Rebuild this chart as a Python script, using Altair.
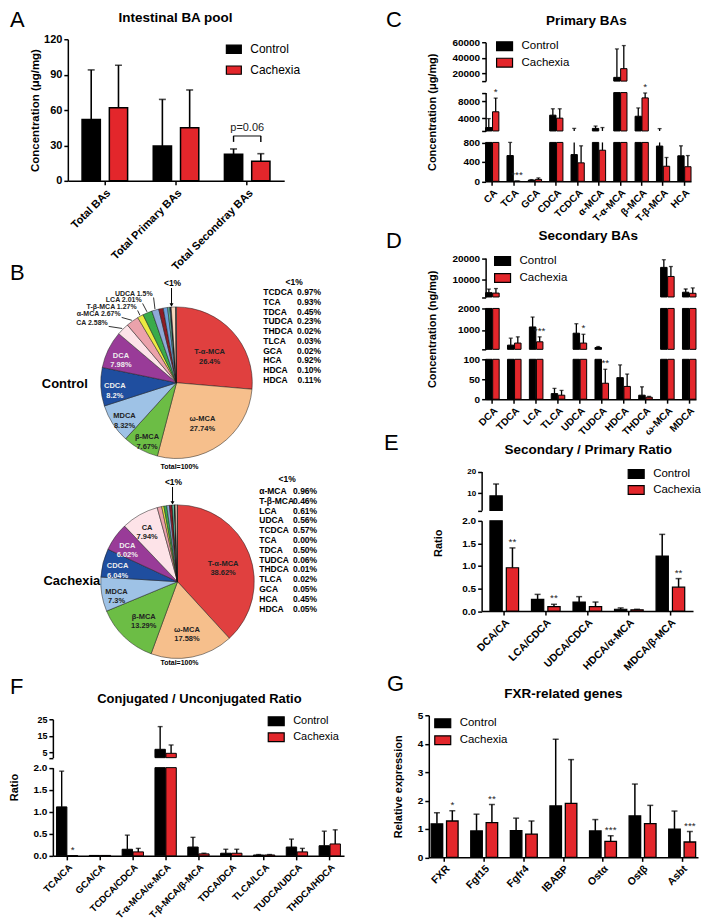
import math
import altair as alt
import pandas as pd

FONT = "Liberation Sans, Arial, Helvetica, sans-serif"
GROUPS = ["Control", "Cachexia"]
COLORS = ["#000000", "#e3262b"]
RECT = "M-1,-0.55H1V0.55H-1Z"

# ---------------- A: Intestinal BA pool ----------------
A_cats = ["Total BAs", "Total Primary BAs", "Total Secondray BAs"]
A_ctrl = [52, 29.5, 22.5]
A_ctrl_err = [94, 69, 27]
A_cach = [62, 45, 16.5]
A_cach_err = [98, 77, 23]
A_sig = ["", "", ""]
A_p_text = "p=0.06"
A_bracket = [33, 38]

# ---------------- C: Primary BAs ----------------
C_cats = ["CA", "TCA", "GCA", "CDCA", "TCDCA", "α-MCA", "T-α-MCA", "β-MCA", "T-β-MCA", "HCA"]
C_ctrl = [1800, 530, 25, 4700, 550, 1600, 14800, 4450, 725, 525]
C_ctrl_err = [3900, 800, 35, 6200, 1600, 2150, 51400, 6400, 1550, 730]
C_cach = [5500, 3, 40, 4000, 380, 640, 26000, 8750, 310, 300]
C_cach_err = [8700, 5, 70, 6200, 730, 1800, 55700, 9900, 490, 530]
C_sig = ["*", "***", "", "", "", "", "", "*", "", ""]

# ---------------- D: Secondary BAs ----------------
D_cats = ["DCA", "TDCA", "LCA", "TLCA", "UDCA", "TUDCA", "HDCA", "THDCA", "ω-MCA", "MDCA"]
D_ctrl = [4000, 295, 1140, 14, 850, 185, 54, 10, 15700, 4200]
D_ctrl_err = [5650, 620, 1600, 27, 1290, 230, 86, 31, 19250, 5700]
D_cach = [3800, 390, 450, 10, 390, 40, 32, 5, 11500, 3700]
D_cach_err = [5900, 680, 680, 22, 800, 75, 63, 7, 16100, 6200]
D_sig = ["", "", "***", "", "*", "**", "", "", "", ""]

# ---------------- E: Secondary / Primary ratio ----------------
E_cats = ["DCA/CA", "LCA/CDCA", "UDCA/CDCA", "HDCA/α-MCA", "MDCA/β-MCA"]
E_ctrl = [8.7, 0.26, 0.2, 0.04, 1.22]
E_ctrl_err = [14.2, 0.37, 0.32, 0.07, 1.7]
E_cach = [0.96, 0.1, 0.1, 0.03, 0.53]
E_cach_err = [1.4, 0.15, 0.2, 0.04, 0.72]
E_sig = ["**", "**", "", "", "**"]

# ---------------- F: Conjugated / Unconjugated ratio ----------------
F_cats = ["TCA/CA", "GCA/CA", "TCDCA/CDCA", "T-α-MCA/α-MCA", "T-β-MCA/β-MCA",
          "THCA/HCA", "TDCA/DCA", "TLCA/LCA", "TUDCA/UDCA", "THDCA/HDCA"]
F_ctrl = [1.11, 0.01, 0.15, 7.0, 0.2, 0.0, 0.06, 0.02, 0.2, 0.23]
F_ctrl_err = [1.92, 0.01, 0.47, 20.6, 0.42, 0.0, 0.15, 0.03, 0.38, 0.56]
F_cach = [0.005, 0.01, 0.09, 4.6, 0.045, 0.0, 0.06, 0.02, 0.09, 0.27]
F_cach_err = [0.005, 0.01, 0.17, 9.6, 0.06, 0.0, 0.15, 0.03, 0.17, 0.59]
F_sig = ["*", "", "", "", "", "", "", "", "", ""]

# ---------------- G: FXR-related genes ----------------
G_cats = ["FXR", "Fgf15", "Fgfr4", "IBABP", "Ostα", "Ostβ", "Asbt"]
G_ctrl = [1.18, 0.93, 0.94, 1.81, 0.93, 1.46, 0.99]
G_ctrl_err = [1.57, 1.52, 1.38, 4.16, 1.33, 2.58, 1.63]
G_cach = [1.28, 1.22, 0.82, 1.9, 0.56, 1.19, 0.54]
G_cach_err = [1.64, 1.86, 1.28, 3.44, 0.76, 1.83, 0.91]
G_sig = ["*", "**", "", "", "***", "", "***"]

# ---------------- B: pies ----------------
B_ctrl_names = ["T-α-MCA", "ω-MCA", "β-MCA", "MDCA", "CDCA", "DCA", "CA", "α-MCA", "T-β-MCA",
                "LCA", "UDCA", "TCDCA", "TCA", "TDCA", "TUDCA", "THDCA", "TLCA", "GCA", "HCA",
                "HDCA", "HDCA*"]
B_ctrl_pct = [26.4, 27.74, 7.67, 8.32, 8.2, 7.98, 2.58, 2.67, 1.27, 2.01, 1.5, 0.97, 0.93,
              0.45, 0.23, 0.02, 0.03, 0.02, 0.92, 0.10, 0.11]
B_ctrl_list_names = ["TCDCA", "TCA", "TDCA", "TUDCA", "THDCA", "TLCA", "GCA", "HCA", "HDCA", "HDCA"]
B_ctrl_list_vals = ["0.97%", "0.93%", "0.45%", "0.23%", "0.02%", "0.03%", "0.02%", "0.92%",
                    "0.10%", "0.11%"]
B_ctrl_notes = ["UDCA 1.5%", "LCA 2.01%", "T-β-MCA 1.27%", "α-MCA 2.67%", "CA 2.58%"]
B_ctrl_note_slices = ["UDCA", "LCA", "T-β-MCA", "α-MCA", "CA"]

B_cach_names = ["T-α-MCA", "ω-MCA", "β-MCA", "MDCA", "CDCA", "DCA", "CA", "α-MCA", "T-β-MCA",
                "LCA", "UDCA", "TCDCA", "TCA", "TDCA", "TUDCA", "THDCA", "TLCA", "GCA", "HCA",
                "HDCA"]
B_cach_pct = [38.62, 17.58, 13.29, 7.3, 6.04, 6.02, 7.94, 0.96, 0.46, 0.61, 0.56, 0.57, 0.00,
              0.50, 0.06, 0.01, 0.02, 0.05, 0.45, 0.05]
B_cach_list_names = ["α-MCA", "T-β-MCA", "LCA", "UDCA", "TCDCA", "TCA", "TDCA", "TUDCA",
                     "THDCA", "TLCA", "GCA", "HCA", "HDCA"]
B_cach_list_vals = ["0.96%", "0.46%", "0.61%", "0.56%", "0.57%", "0.00%", "0.50%", "0.06%",
                    "0.01%", "0.02%", "0.05%", "0.45%", "0.05%"]

PIE_COLORS = {
    "T-α-MCA": "#e0403f", "ω-MCA": "#f6bf8c", "β-MCA": "#6cbd45", "MDCA": "#9ec2e6",
    "CDCA": "#1f4e9f", "DCA": "#993b98", "CA": "#fde3e8", "α-MCA": "#eba2ab",
    "T-β-MCA": "#ecea42", "LCA": "#3aab4a", "UDCA": "#8ea9d8", "TCDCA": "#8e1c24",
    "TCA": "#6d9fd9", "TDCA": "#5cb99b", "TUDCA": "#3f70b9", "THDCA": "#b5b5b5",
    "TLCA": "#c77fbc", "GCA": "#f3caa8", "HCA": "#f9d7bf", "HDCA": "#fbe6d5", "HDCA*": "#f7efe6",
}


def make_df(cats, ctrl, ctrl_err, cach, cach_err, sig):
    rows = []
    for i, c in enumerate(cats):
        rows.append({"cat": c, "grp": "Control", "val": ctrl[i], "err": ctrl_err[i], "sig": ""})
        rows.append({"cat": c, "grp": "Cachexia", "val": cach[i], "err": cach_err[i], "sig": sig[i]})
    return pd.DataFrame(rows)


def label(t, x, y, size=22, weight="normal", align="left", baseline="top", color="black"):
    return alt.Chart(pd.DataFrame({"t": [t]})).mark_text(
        x=x, y=y, align=align, baseline=baseline, fontSize=size, fontWeight=weight,
        font=FONT, color=color).encode(text="t:N")


def title_text(t, x, y, size=13.5):
    return label(t, x, y, size=size, weight="bold", align="center", baseline="middle")


def arrow(x, y1, y2):
    d = pd.DataFrame({"a": [0]})
    line = alt.Chart(d).mark_rule(color="black", strokeWidth=1).encode(
        x=alt.value(x), y=alt.value(y1), y2=alt.value(y2 - 3))
    head = alt.Chart(d).mark_point(shape="triangle-down", filled=True, color="black",
                                   size=16, opacity=1).encode(x=alt.value(x), y=alt.value(y2 - 2))
    return [line, head]


def leader(x1, y1, x2, y2):
    d = pd.DataFrame({"a": [0]})
    return alt.Chart(d).mark_rule(color="black", strokeWidth=0.8).encode(
        x=alt.value(x1), y=alt.value(y1), x2=alt.value(x2), y2=alt.value(y2))


def leg(x, y, size=11.5, row_pad=0.5, sym=256):
    return alt.Legend(orient="none", legendX=x, legendY=y, title=None, symbolType=RECT,
                      symbolSize=sym, symbolStrokeColor="black", symbolStrokeWidth=1.2,
                      labelFontSize=size, labelFont=FONT, labelColor="black",
                      labelFontWeight="normal", rowPadding=row_pad, labelOffset=8, padding=0)


def panel(df, cats, w, h, xoff, segs, xpad, opad, xlab, legend, ytitle=None, tseg=0, ytpad=4,
          yty=None, ytsize=11, cap=5, sw=1.0, esw=1.4, star=10, texts=(), extra=None):
    xaxis = alt.Axis(labelAngle=-45, labelFontSize=xlab, labelPadding=2)
    X = alt.X("cat:N", sort=cats,
              scale=alt.Scale(range=[xoff, w], paddingInner=xpad[0], paddingOuter=xpad[1]),
              axis=xaxis, title=None)
    XO = alt.XOffset("grp:N", sort=GROUPS,
                     scale=alt.Scale(domain=GROUPS, paddingInner=opad, paddingOuter=0))
    col = alt.Color("grp:N", sort=GROUPS, scale=alt.Scale(domain=GROUPS, range=COLORS),
                    legend=legend)
    seg_layers = []
    for k, s in enumerate(segs):
        lo, hi = s["dom"]
        ends = s.get("ends", [])
        values = sorted(set(list(s["ticks"]) + list(ends)))
        if ends:
            cond = " || ".join(f"datum.value == {e}" for e in ends)
            lexpr = f"({cond}) ? '' : datum.label"
        else:
            lexpr = "datum.label"
        akw = dict(values=values, format=s.get("fmt", "d"), labelExpr=lexpr,
                   labelFontSize=s.get("ylab", 10), orient="left", offset=-xoff)
        ttl = None
        if k == tseg and ytitle:
            ttl = ytitle
            akw.update(titleFontSize=ytsize, titlePadding=ytpad)
            if yty is not None:
                akw["titleY"] = yty
        yaxis = alt.Axis(**akw)
        ysc = alt.Scale(domain=[lo, hi], range=list(s["rng"]), nice=False, zero=False)

        def Y(f, ysc=ysc, yaxis=yaxis, ttl=ttl):
            return alt.Y(f + ":Q", scale=ysc, axis=yaxis, title=ttl)

        base = alt.Chart(df).encode(x=X, xOffset=XO)
        bars = base.transform_filter(f"datum.val > {lo}").transform_calculate(
            ytop=f"min(datum.val, {hi})", ybot=f"{lo}").mark_bar(
            stroke="black", strokeWidth=sw).encode(y=Y("ytop"), y2=alt.Y2("ybot:Q"), color=col)
        rules = base.transform_filter(
            f"datum.err > datum.val && datum.err > {lo} && datum.val < {hi}").transform_calculate(
            e1=f"max(datum.val, {lo})", e2=f"min(datum.err, {hi})").mark_rule(
            color="black", strokeWidth=esw).encode(y=Y("e1"), y2=alt.Y2("e2:Q"))
        caps = base.transform_filter(
            f"datum.err > datum.val && datum.err >= {lo} && datum.err <= {hi}").mark_tick(
            color="black", thickness=esw, size=cap).encode(y=Y("err"))
        stars = base.transform_filter(
            f"datum.sig != '' && datum.err >= {lo} && datum.err <= {hi}").mark_text(
            baseline="bottom", dy=-1, fontSize=star, font=FONT, color="#222222").encode(
            y=Y("err"), text="sig:N")
        sl = [bars, rules, caps, stars]
        if extra is not None and k == 0:
            sl += extra(X, XO, Y)
        seg_layers.append(alt.layer(*sl))
    ch = alt.layer(*seg_layers, *texts)
    if len(segs) > 1:
        ch = ch.resolve_scale(y="independent")
    return ch.properties(width=w, height=h)


def pie_panel(names, pct, R, cx, cy, n_big, n_lab, r_in, r_out, lnames, lvals, ly0, ldy, lxn,
              lxv, hdr, lt, side, total, w, h, notes=(), extra_texts=()):
    df = pd.DataFrame({"name": names, "pct": pct, "idx": list(range(len(names)))})
    base = alt.Chart(df).encode(theta=alt.Theta("pct:Q", stack=True),
                                order=alt.Order("idx:Q", sort="ascending"),
                                x=alt.value(cx), y=alt.value(cy))
    arcs = base.mark_arc(outerRadius=R, stroke="#1a1a1a", strokeWidth=0.5).encode(
        color=alt.Color("name:N", scale=alt.Scale(domain=names,
                                                  range=[PIE_COLORS[n] for n in names]),
                        legend=None))
    tc = "indexof(['CDCA','DCA'], datum.name) >= 0 ? '#eeeeee' : '#222222'"
    lab_expr = "datum.name + '\\n' + datum.pct + '%'"
    t_in = base.transform_calculate(
        lab=f"datum.idx < {n_big} ? {lab_expr} : ''", tc=tc).mark_text(
        radius=r_in, lineBreak="\n", fontSize=7.5, fontWeight="bold", font=FONT).encode(
        text="lab:N", detail="name:N", fill=alt.Fill("tc:N", scale=None))
    t_out = base.transform_calculate(
        lab=f"datum.idx >= {n_big} && datum.idx < {n_lab} ? {lab_expr} : ''", tc=tc).mark_text(
        radius=r_out, lineBreak="\n", fontSize=7.5, fontWeight="bold", font=FONT).encode(
        text="lab:N", detail="name:N", fill=alt.Fill("tc:N", scale=None))
    n = len(lnames)
    ldf = pd.DataFrame({"row": list(range(n)), "name": lnames, "v": lvals})
    ysc = alt.Scale(domain=[0, n - 1], range=[ly0, ly0 + (n - 1) * ldy])
    l1 = alt.Chart(ldf).mark_text(align="left", baseline="middle", x=lxn, fontSize=8.5,
                                  fontWeight="bold", font=FONT, color="black").encode(
        y=alt.Y("row:Q", scale=ysc, axis=None), text="name:N")
    l2 = alt.Chart(ldf).mark_text(align="right", baseline="middle", x=lxv, fontSize=8.5,
                                  fontWeight="bold", font=FONT, color="black").encode(
        y=alt.Y("row:Q", scale=ysc, axis=None), text="v:N")
    layers = [arcs, t_in, t_out, l1, l2,
              label("<1%", hdr[0], hdr[1], size=8.5, weight="bold", align="center",
                    baseline="middle"),
              label("<1%", lt[0], lt[1], size=8.5, weight="bold", align="center",
                    baseline="middle"),
              label(side[0], side[1], side[2], size=13, weight="bold", align="center",
                    baseline="middle"),
              label("Total=100%", total[0], total[1], size=7, weight="bold", align="center",
                    baseline="middle")]
    layers += arrow(lt[0] - 1, lt[1] + 5, cy - R)
    tot = sum(pct)
    for t, x, y, sl in notes:
        layers.append(label(t, x, y, size=7, weight="bold", align="right", baseline="middle",
                            color="#222222"))
        i = names.index(sl)
        mid = (sum(pct[:i]) + pct[i] / 2) / tot * 2 * math.pi
        px = cx + (R + 1) * math.sin(mid)
        py = cy - (R + 1) * math.cos(mid)
        layers.append(leader(x + 1, y + 3.5, px, py))
    layers += list(extra_texts)
    return alt.layer(*layers).properties(width=w, height=h)


# ---------------- A ----------------
dfA = make_df(A_cats, A_ctrl, A_ctrl_err, A_cach, A_cach_err, A_sig)


def a_extra(X, XO, Y):
    d = pd.DataFrame({"cat": [A_cats[2]] * 2, "grp": GROUPS,
                      "y1": [A_bracket[0]] * 2, "y2": [A_bracket[1]] * 2})
    legs = alt.Chart(d).mark_rule(color="black", strokeWidth=1.4).encode(
        x=X, xOffset=XO, y=Y("y1"), y2=alt.Y2("y2:Q"))
    top = alt.Chart(d.iloc[:1]).mark_tick(color="black", thickness=1.4, size=28).encode(
        x=X, y=Y("y2"))
    txt = alt.Chart(d.iloc[:1]).mark_text(baseline="bottom", dy=-3, fontSize=11, font=FONT,
                                          color="#222222").encode(
        x=X, y=Y("y2"), text=alt.value(A_p_text))
    return [legs, top, txt]


A = panel(dfA, A_cats, 232, 142, 15,
          [dict(dom=(0, 120), rng=(142, 0), ticks=[0, 30, 60, 90, 120], ylab=11)],
          xpad=(0.36, 0.2), opad=0.33, xlab=11,
          legend=leg(173, 1.5, size=12, row_pad=5, sym=225),
          ytitle="Concentration (μg/mg)", ytpad=3, ytsize=11.5, cap=7, sw=1.5, esw=1.6,
          texts=[title_text("Intestinal BA pool", 123, -21), label("A", -43, -29)],
          extra=a_extra)

# ---------------- C ----------------
dfC = make_df(C_cats, C_ctrl, C_ctrl_err, C_cach, C_cach_err, C_sig)
C = panel(dfC, C_cats, 263, 142.5, 57,
          [dict(dom=(10000, 60000), rng=(42, 3), ticks=[20000, 40000, 60000], ends=[10000]),
           dict(dom=(1000, 10000), rng=(92, 53.5), ticks=[4000, 8000], ends=[1000, 10000]),
           dict(dom=(0, 800), rng=(142.5, 103.5), ticks=[0, 400, 800])],
          xpad=(0.38, 0.0), opad=0.08, xlab=10, legend=leg(67, -2),
          ytitle="Concentration (μg/mg)", tseg=1, ytpad=20, cap=4, sw=1.0, esw=1.3,
          texts=[title_text("Primary BAs", 158, -18), label("C", -43, -29)])

# ---------------- D ----------------
dfD = make_df(D_cats, D_ctrl, D_ctrl_err, D_cach, D_cach_err, D_sig)
D = panel(dfD, D_cats, 268, 218, 57,
          [dict(dom=(2000, 20000), rng=(115.5, 76.5), ticks=[10000, 20000], ends=[2000]),
           dict(dom=(100, 2000), rng=(168, 127), ticks=[1000, 2000], ends=[100]),
           dict(dom=(0, 100), rng=(218, 178), ticks=[0, 50, 100])],
          xpad=(0.38, 0.0), opad=0.08, xlab=10, legend=leg(65, 70.5, row_pad=1),
          ytitle="Concentration (ng/mg)", tseg=1, ytpad=20, cap=4, sw=1.0, esw=1.3,
          texts=[title_text("Secondary BAs", 160, 54.5), label("D", -43, 49.5)])

# ---------------- E ----------------
dfE = make_df(E_cats, E_ctrl, E_ctrl_err, E_cach, E_cach_err, E_sig)
E = panel(dfE, E_cats, 265, 152.5, 53,
          [dict(dom=(2, 20), rng=(51.5, 12.5), ticks=[10, 20], ends=[2], ylab=8),
           dict(dom=(0, 2), rng=(152.5, 62), ticks=[0, 0.5, 1, 1.5, 2], fmt=".1f")],
          xpad=(0.31, 0.2), opad=0.25, xlab=10.5, legend=leg(199, 6, row_pad=0),
          ytitle="Ratio", tseg=1, ytpad=18, yty=84, cap=6, sw=1.2, esw=1.5,
          texts=[title_text("Secondary / Primary  Ratio", 160, -9), label("E", -45, -26)])

# ---------------- F ----------------
dfF = make_df(F_cats, F_ctrl, F_ctrl_err, F_cach, F_cach_err, F_sig)
F = panel(dfF, F_cats, 292, 186, 0,
          [dict(dom=(2, 25), rng=(87.5, 49), ticks=[5, 15, 25], ends=[2], ylab=9),
           dict(dom=(0, 2), rng=(186, 97.5), ticks=[0, 0.5, 1, 1.5, 2], fmt=".1f")],
          xpad=(0.35, 0.11), opad=0.05, xlab=9.5, legend=leg(215, 42, size=11, row_pad=0),
          ytitle="Ratio", tseg=1, ytpad=13.5, yty=117, cap=5, sw=1.0, esw=1.4,
          texts=[title_text("Conjugated / Unconjugated Ratio", 147, 29, size=13),
                 label("F", -43, 7)])

# ---------------- G ----------------
dfG = make_df(G_cats, G_ctrl, G_ctrl_err, G_cach, G_cach_err, G_sig)
G = panel(dfG, G_cats, 270, 187.5, 0,
          [dict(dom=(0, 5), rng=(187.5, 45), ticks=[0, 1, 2, 3, 4, 5])],
          xpad=(0.32, 0.06), opad=0.25, xlab=10.5, legend=leg(5, 44, row_pad=1),
          ytitle="Relative expression", ytpad=14, cap=6, sw=1.3, esw=1.5,
          texts=[title_text("FXR-related genes", 135, 24), label("G", -42, 4)])

# ---------------- B pies ----------------
note_pos = [(100, 112.5), (89, 118.5), (84, 125.5), (68, 132.5), (55, 141.5)]
pieC = pie_panel(
    B_ctrl_names, B_ctrl_pct, 76, 124, 201.5, 2, 6, 45, 62, B_ctrl_list_names, B_ctrl_list_vals,
    110.5, 9.8, 211, 269, (242, 100.5), (120, 101.5), ("Control", 12, 202.5), (127, 286.5),
    292, 277.5,
    notes=[(B_ctrl_notes[i], note_pos[i][0], note_pos[i][1], B_ctrl_note_slices[i])
           for i in range(len(B_ctrl_notes))],
    extra_texts=[label("B", -43, 81.5)])

pieK = pie_panel(
    B_cach_names, B_cach_pct, 77, 125, 123, 3, 7, 49, 62, B_cach_list_names, B_cach_list_vals,
    32, 9.83, 207, 265, (235, 20), (121, 23), ("Cachexia", 19, 122), (127, 205), 292, 212)

chart = alt.concat(
    A, C, pieC, D, pieK, E, F, G, columns=2, spacing={"row": 0, "column": 85}, bounds="flush"
).resolve_scale(
    x="independent", y="independent", color="independent", theta="independent",
    xOffset="independent"
).resolve_legend(color="independent").properties(padding=0).configure_axis(
    labelFont=FONT, titleFont=FONT, labelFontWeight="bold", titleFontWeight="bold",
    labelColor="black", titleColor="black", domainColor="black", tickColor="black",
    domainWidth=1.5, tickWidth=1.5, tickSize=4, grid=False, labelPadding=2,
).configure_legend(labelFont=FONT, labelColor="black").configure_view(stroke=None)

chart.save("out.html", embed_options={"renderer": "svg", "actions": False})
